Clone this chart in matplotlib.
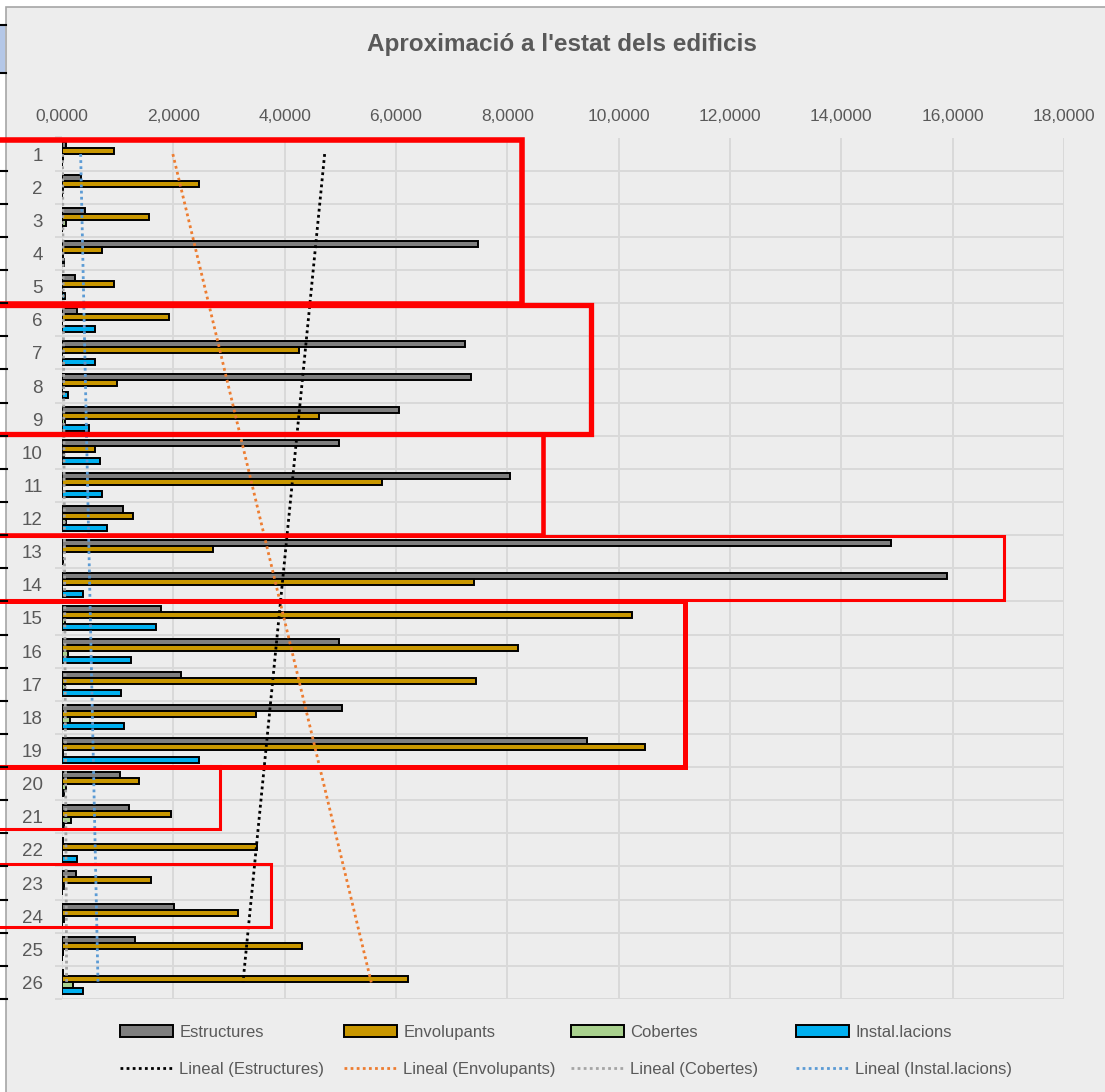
import numpy as np
import matplotlib
matplotlib.use("Agg")
import matplotlib.pyplot as plt
from matplotlib.patches import Rectangle, Patch
from matplotlib.lines import Line2D

plt.rcParams["font.family"] = ["Liberation Sans", "DejaVu Sans"]

# ---- data ----
categories = list(range(1, 27))
estructures = [0.08, 0.35, 0.42, 7.47, 0.24, 0.27, 7.24, 7.35, 6.05, 4.98, 8.05, 1.09, 14.89,
               15.90, 1.77, 4.98, 2.14, 5.03, 9.43, 1.04, 1.20, 0.02, 0.25, 2.02, 1.32, 0.02]
envolupants = [0.94, 2.47, 1.57, 0.71, 0.94, 1.93, 4.26, 0.99, 4.62, 0.59, 5.75, 1.27, 2.71,
               7.40, 10.24, 8.20, 7.43, 3.48, 10.48, 1.39, 1.95, 3.50, 1.59, 3.17, 4.31, 6.22]
cobertes = [0.02, 0.02, 0.08, 0.02, 0.00, 0.00, 0.00, 0.00, 0.05, 0.04, 0.00, 0.08, 0.00,
            0.00, 0.06, 0.10, 0.05, 0.14, 0.02, 0.07, 0.17, 0.00, 0.03, 0.03, 0.02, 0.20]
instal = [0.00, 0.00, 0.00, 0.03, 0.06, 0.60, 0.60, 0.11, 0.48, 0.68, 0.72, 0.80, 0.02,
          0.37, 1.69, 1.24, 1.06, 1.12, 2.47, 0.04, 0.03, 0.27, 0.00, 0.00, 0.00, 0.37]

series_names = ["Estructures", "Envolupants", "Cobertes", "Instal.lacions"]
x_ticks = [0, 2, 4, 6, 8, 10, 12, 14, 16, 18]
title = "Aproximació a l'estat dels edificis"

# red highlight boxes drawn over the chart: (first cat edge, last cat edge, right value, width)
highlights = [(0.59, 5.54, 8.27, 4.0), (5.56, 9.45, 9.50, 3.8), (9.45, 12.51, 8.64, 3.3),
              (12.53, 14.45, 16.93, 2.2), (14.48, 19.50, 11.19, 3.6), (19.48, 21.37, 2.83, 2.2),
              (22.43, 24.33, 3.76, 2.2)]

bar_colors = ["#7F7F7F", "#C99700", "#A9D18E", "#00B0F0"]
trend_colors = ["#000000", "#ED7D31", "#A5A5A5", "#5B9BD5"]
text_gray = "#595959"
bg = "#EDEDED"
grid_col = "#D9D9D9"

W, H = 1105, 1092
fig = plt.figure(figsize=(W / 100, H / 100), dpi=100)
fig.patch.set_facecolor("white")

# chart area background + border
fig.add_artist(Rectangle((6 / W, -0.01), 1.0, 1 - 7 / H + 0.01, transform=fig.transFigure,
                         facecolor=bg, edgecolor="#A6A6A6", linewidth=1.2, zorder=0))
# bits of the sheet behind the chart on the left
fig.add_artist(Rectangle((0, 1 - 73 / H), 5 / W, 48 / H, transform=fig.transFigure,
                         facecolor="#B4C7E7", edgecolor="none", zorder=0))
for yy in [25, 73]:
    fig.add_artist(Line2D([0, 6 / W], [1 - yy / H] * 2, transform=fig.transFigure,
                          color="black", lw=1.5))

left, right, top, bottom = 62, 1064, 137.5, 999
ax = fig.add_axes([left / W, 1 - bottom / H, (right - left) / W, (bottom - top) / H])
ax.set_facecolor(bg)
for s in ax.spines.values():
    s.set_visible(False)

cats = np.array(categories, dtype=float)
all_series = [estructures, envolupants, cobertes, instal]
bh = 1 / 5.5
offsets = [-1.5 * bh, -0.5 * bh, 0.5 * bh, 1.5 * bh]
for vals, col, off in zip(all_series, bar_colors, offsets):
    ax.barh(cats + off, vals, height=bh, color=col, edgecolor="black", linewidth=1.4, zorder=3)

# linear trendlines (Excel "Lineal")
dot = (0, (1, 1.2))
for vals, col in zip(all_series, trend_colors):
    k, b = np.polyfit(cats, np.array(vals), 1)
    ax.plot(k * cats + b, cats, color=col, lw=2.0, linestyle=dot, zorder=4)

ax.set_xlim(0, 18)
ax.set_ylim(26.5, 0.5)
ax.xaxis.tick_top()
ax.set_xticks(x_ticks)
ax.set_xticklabels([f"{v:.4f}".replace(".", ",") for v in x_ticks])
ax.tick_params(axis="x", length=0, pad=10, labelsize=12.5, labelcolor=text_gray)
ax.set_yticks(cats)
ax.set_yticklabels([str(c) for c in categories])
ax.tick_params(axis="y", which="major", length=0, pad=14, labelsize=13.5, labelcolor=text_gray)
ax.set_yticks(np.arange(0.5, 27, 1.0), minor=True)
ax.tick_params(axis="y", which="minor", length=5, width=1.4, color=grid_col)
ax.grid(axis="x", which="major", color=grid_col, lw=1.4, zorder=0)
ax.grid(axis="y", which="minor", color=grid_col, lw=1.4, zorder=0)
ax.set_axisbelow(True)

# sheet row marks left of the chart
for yb in np.arange(1.5, 27, 1.0):
    ypix = top + (yb - 0.5) * (bottom - top) / 26
    fig.add_artist(Line2D([0, 7 / W], [1 - ypix / H] * 2, transform=fig.transFigure,
                          color="black", lw=1.5))

fig.text(562 / W, 1 - 45 / H, title, ha="center", va="center", fontsize=17.5,
         fontweight="bold", color=text_gray)

# legend: one small legend per series so columns sit where Excel put them
leg_x = [120, 344, 571, 796]
for i, name in enumerate(series_names):
    hs = [Patch(facecolor=bar_colors[i], edgecolor="black", linewidth=1.4),
          Line2D([], [], color=trend_colors[i], lw=2.0, linestyle=dot)]
    labels = [name, f"Lineal ({name})"]
    fig.legend(hs, labels, loc="center left", bbox_to_anchor=(leg_x[i] / W, 1 - 1051 / H),
               frameon=False, fontsize=12, handlelength=3.2, handletextpad=0.35,
               labelspacing=1.35, borderpad=0, borderaxespad=0, labelcolor=text_gray)

# red boxes on top
for y0, y1, xr, lw in highlights:
    ax.add_patch(Rectangle((-2, y0), xr + 2, y1 - y0, fill=False, edgecolor="#FF0000",
                           linewidth=lw, clip_on=False, zorder=10))

fig.savefig("out.png", dpi=100)
